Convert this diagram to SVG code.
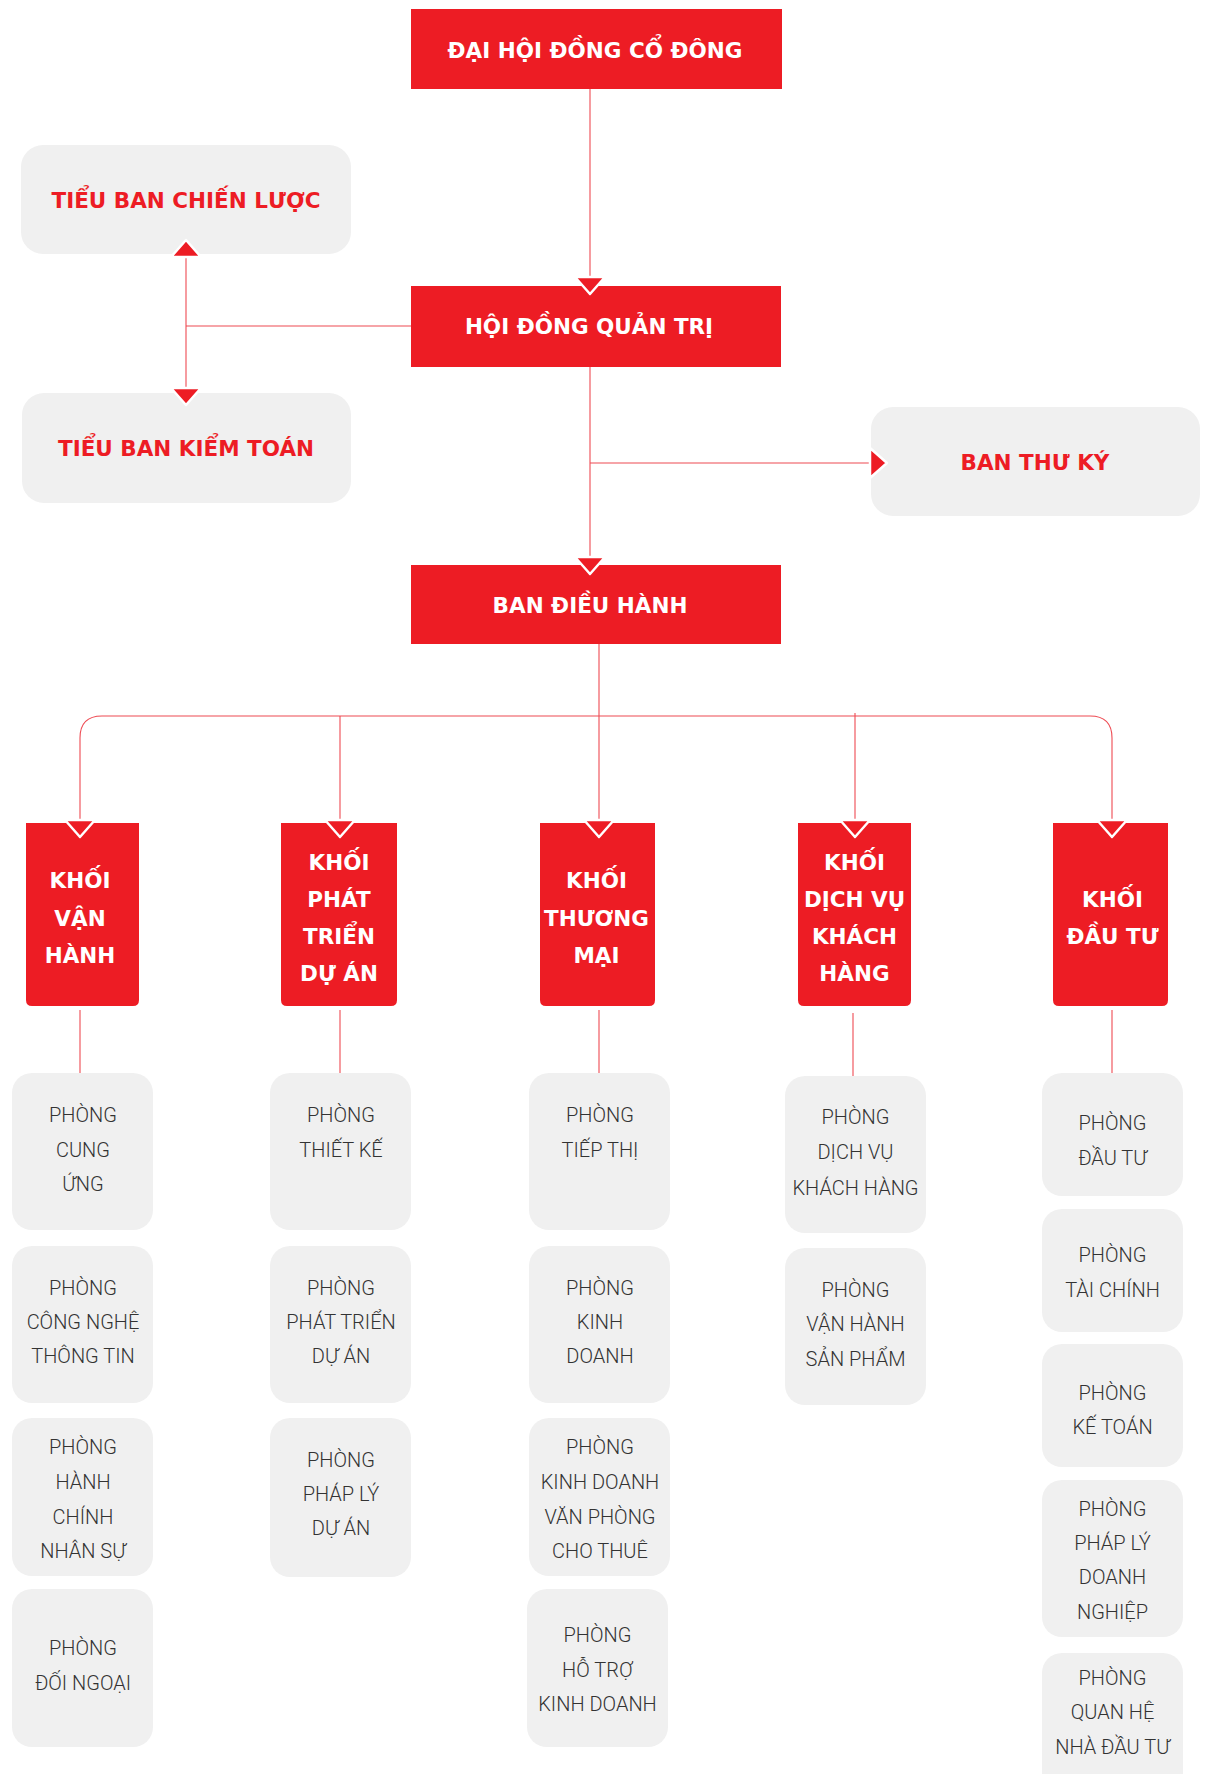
<svg xmlns="http://www.w3.org/2000/svg" xmlns:xlink="http://www.w3.org/1999/xlink" width="1210" height="1774" viewBox="0 0 1210 1774">
<style>
.red{fill:#ED1C24}
.gray{fill:#F0F0F0}
.h{font-family:"DejaVu Sans","Liberation Sans",sans-serif;font-weight:bold;font-size:21.5px;text-anchor:middle}
.hw{fill:#FFFFFF}
.hr{fill:#ED1C24}
.p{font-family:Roboto,"Liberation Sans",sans-serif;font-weight:300;font-size:20px;fill:#333333;text-anchor:middle}
.ln{stroke:#EE4A52;stroke-width:1.1;fill:none}
.arr{fill:#ED1C24;stroke:#FFFFFF;stroke-width:2.5;stroke-linejoin:round}
</style>
<defs>
<path id="ad" d="M-15,-17 H15 L0,0 Z"/>
</defs>
<rect width="1210" height="1774" fill="#FFFFFF"/>

<g id="dhdcd"><rect class="red" x="411" y="9" width="371" height="80"/><text class="h hw" x="595" y="58">ĐẠI HỘI ĐỒNG CỔ ĐÔNG</text></g>
<g id="hdqt"><rect class="red" x="411" y="286" width="370" height="81"/><text class="h hw" x="589" y="334">HỘI ĐỒNG QUẢN TRỊ</text></g>
<g id="bdh"><rect class="red" x="411" y="565" width="370" height="79"/><text class="h hw" x="590" y="613">BAN ĐIỀU HÀNH</text></g>
<g id="tbcl"><rect class="gray" x="21" y="145" width="330" height="109" rx="22"/><text class="h hr" x="186" y="207.5">TIỂU BAN CHIẾN LƯỢC</text></g>
<g id="tbkt"><rect class="gray" x="22" y="393" width="329" height="110" rx="22"/><text class="h hr" x="186" y="456">TIỂU BAN KIỂM TOÁN</text></g>
<g id="btk"><rect class="gray" x="871" y="407" width="329" height="109" rx="22"/><text class="h hr" x="1035" y="470">BAN THƯ KÝ</text></g>

<g id="khoi-van-hanh"><path class="red" d="M26,823 H139 V1000 Q139,1006 133,1006 H32 Q26,1006 26,1000 Z"/><text class="h hw"><tspan x="80" y="888">KHỐI</tspan><tspan x="80" y="925.5">VẬN</tspan><tspan x="80" y="963">HÀNH</tspan></text></g>
<g id="khoi-phat-trien-du-an"><path class="red" d="M281,823 H397 V1000 Q397,1006 391,1006 H287 Q281,1006 281,1000 Z"/><text class="h hw"><tspan x="339" y="870">KHỐI</tspan><tspan x="339" y="907">PHÁT</tspan><tspan x="339" y="944">TRIỂN</tspan><tspan x="339" y="981">DỰ ÁN</tspan></text></g>
<g id="khoi-thuong-mai"><path class="red" d="M540,823 H655 V1000 Q655,1006 649,1006 H546 Q540,1006 540,1000 Z"/><text class="h hw"><tspan x="596.5" y="888">KHỐI</tspan><tspan x="596.5" y="925.5">THƯƠNG</tspan><tspan x="596.5" y="963">MẠI</tspan></text></g>
<g id="khoi-dich-vu-khach-hang"><path class="red" d="M798,823 H911 V1000 Q911,1006 905,1006 H804 Q798,1006 798,1000 Z"/><text class="h hw"><tspan x="854.5" y="870">KHỐI</tspan><tspan x="854.5" y="907">DỊCH VỤ</tspan><tspan x="854.5" y="944">KHÁCH</tspan><tspan x="854.5" y="981">HÀNG</tspan></text></g>
<g id="khoi-dau-tu"><path class="red" d="M1053,823 H1168 V1000 Q1168,1006 1162,1006 H1059 Q1053,1006 1053,1000 Z"/><text class="h hw"><tspan x="1112.5" y="907">KHỐI</tspan><tspan x="1112.5" y="944">ĐẦU TƯ</tspan></text></g>

<g id="p-cung-ung"><rect class="gray" x="12" y="1073" width="141" height="157" rx="20"/><text class="p"><tspan x="83" y="1122.3">PHÒNG</tspan><tspan x="83" y="1156.7">CUNG</tspan><tspan x="83" y="1191.3">ỨNG</tspan></text></g>
<g id="p-cntt"><rect class="gray" x="12" y="1246" width="141" height="157" rx="20"/><text class="p"><tspan x="83" y="1295">PHÒNG</tspan><tspan x="83" y="1329.3">CÔNG NGHỆ</tspan><tspan x="83" y="1363.3">THÔNG TIN</tspan></text></g>
<g id="p-hcns"><rect class="gray" x="12" y="1418" width="141" height="158" rx="20"/><text class="p"><tspan x="83" y="1454.3">PHÒNG</tspan><tspan x="83" y="1489">HÀNH</tspan><tspan x="83" y="1524">CHÍNH</tspan><tspan x="83" y="1558">NHÂN SỰ</tspan></text></g>
<g id="p-doi-ngoai"><rect class="gray" x="12" y="1589" width="141" height="158" rx="20"/><text class="p"><tspan x="83" y="1655">PHÒNG</tspan><tspan x="83" y="1690">ĐỐI NGOẠI</tspan></text></g>

<g id="p-thiet-ke"><rect class="gray" x="270" y="1073" width="141" height="157" rx="20"/><text class="p"><tspan x="341" y="1122.3">PHÒNG</tspan><tspan x="341" y="1156.7">THIẾT KẾ</tspan></text></g>
<g id="p-ptda"><rect class="gray" x="270" y="1246" width="141" height="157" rx="20"/><text class="p"><tspan x="341" y="1295">PHÒNG</tspan><tspan x="341" y="1329.3">PHÁT TRIỂN</tspan><tspan x="341" y="1363.3">DỰ ÁN</tspan></text></g>
<g id="p-phap-ly-du-an"><rect class="gray" x="270" y="1418" width="141" height="159" rx="20"/><text class="p"><tspan x="341" y="1466.7">PHÒNG</tspan><tspan x="341" y="1500.7">PHÁP LÝ</tspan><tspan x="341" y="1535">DỰ ÁN</tspan></text></g>

<g id="p-tiep-thi"><rect class="gray" x="529" y="1073" width="141" height="157" rx="20"/><text class="p"><tspan x="600" y="1122.3">PHÒNG</tspan><tspan x="600" y="1156.7">TIẾP THỊ</tspan></text></g>
<g id="p-kinh-doanh"><rect class="gray" x="529" y="1246" width="141" height="157" rx="20"/><text class="p"><tspan x="600" y="1295">PHÒNG</tspan><tspan x="600" y="1329.3">KINH</tspan><tspan x="600" y="1363.3">DOANH</tspan></text></g>
<g id="p-kdvp"><rect class="gray" x="529" y="1418" width="141" height="158" rx="20"/><text class="p"><tspan x="600" y="1454.3">PHÒNG</tspan><tspan x="600" y="1489">KINH DOANH</tspan><tspan x="600" y="1524">VĂN PHÒNG</tspan><tspan x="600" y="1558">CHO THUÊ</tspan></text></g>
<g id="p-ho-tro-kd"><rect class="gray" x="527" y="1589" width="141" height="158" rx="20"/><text class="p"><tspan x="597.5" y="1641.7">PHÒNG</tspan><tspan x="597.5" y="1676.7">HỖ TRỢ</tspan><tspan x="597.5" y="1710.7">KINH DOANH</tspan></text></g>

<g id="p-dvkh"><rect class="gray" x="785" y="1076" width="141" height="157" rx="20"/><text class="p"><tspan x="855.5" y="1124.3">PHÒNG</tspan><tspan x="855.5" y="1159.4">DỊCH VỤ</tspan><tspan x="855.5" y="1194.5">KHÁCH HÀNG</tspan></text></g>
<g id="p-vhsp"><rect class="gray" x="785" y="1248" width="141" height="157" rx="20"/><text class="p"><tspan x="855.5" y="1296.6">PHÒNG</tspan><tspan x="855.5" y="1331.2">VẬN HÀNH</tspan><tspan x="855.5" y="1366.3">SẢN PHẨM</tspan></text></g>

<g id="p-dau-tu"><rect class="gray" x="1042" y="1073" width="141" height="123" rx="20"/><text class="p"><tspan x="1112.5" y="1130.4">PHÒNG</tspan><tspan x="1112.5" y="1164.5">ĐẦU TƯ</tspan></text></g>
<g id="p-tai-chinh"><rect class="gray" x="1042" y="1209" width="141" height="123" rx="20"/><text class="p"><tspan x="1112.5" y="1262.4">PHÒNG</tspan><tspan x="1112.5" y="1296.6">TÀI CHÍNH</tspan></text></g>
<g id="p-ke-toan"><rect class="gray" x="1042" y="1344" width="141" height="123" rx="20"/><text class="p"><tspan x="1112.5" y="1399.5">PHÒNG</tspan><tspan x="1112.5" y="1434.2">KẾ TOÁN</tspan></text></g>
<g id="p-phap-ly-dn"><rect class="gray" x="1042" y="1480" width="141" height="157" rx="20"/><text class="p"><tspan x="1112.5" y="1515.7">PHÒNG</tspan><tspan x="1112.5" y="1549.8">PHÁP LÝ</tspan><tspan x="1112.5" y="1584">DOANH</tspan><tspan x="1112.5" y="1619.1">NGHIỆP</tspan></text></g>
<g id="p-qhndt"><rect class="gray" x="1042" y="1653" width="141" height="157" rx="20"/><text class="p"><tspan x="1112.5" y="1685.1">PHÒNG</tspan><tspan x="1112.5" y="1718.8">QUAN HỆ</tspan><tspan x="1112.5" y="1754">NHÀ ĐẦU TƯ</tspan></text></g>

<g id="connectors">
<path class="ln" d="M590,89 V280"/>
<path class="ln" d="M590,367 V560"/>
<path class="ln" d="M590,463 H874"/>
<path class="ln" d="M411,326 H186"/>
<path class="ln" d="M186,254 V390"/>
<path class="ln" d="M599,644 V824"/>
<path class="ln" d="M80,824 V738 Q80,716 102,716 H1090 Q1112,716 1112,738 V824"/>
<path class="ln" d="M340,716 V824"/>
<path class="ln" d="M855,713 V824"/>
<path class="ln" d="M80,1010 V1073"/>
<path class="ln" d="M340,1010 V1073"/>
<path class="ln" d="M599,1010 V1073"/>
<path class="ln" d="M853,1013 V1076"/>
<path class="ln" d="M1112,1010 V1073"/>
<use class="arr" xlink:href="#ad" transform="translate(590,294)"/>
<use class="arr" xlink:href="#ad" transform="translate(590,574)"/>
<use class="arr" xlink:href="#ad" transform="translate(186,240) rotate(180)"/>
<use class="arr" xlink:href="#ad" transform="translate(186,405)"/>
<use class="arr" xlink:href="#ad" transform="translate(887,463) rotate(-90)"/>
<use class="arr" xlink:href="#ad" transform="translate(80,837)"/>
<use class="arr" xlink:href="#ad" transform="translate(340,837)"/>
<use class="arr" xlink:href="#ad" transform="translate(599,837)"/>
<use class="arr" xlink:href="#ad" transform="translate(855,837)"/>
<use class="arr" xlink:href="#ad" transform="translate(1112,837)"/>
</g>
</svg>
